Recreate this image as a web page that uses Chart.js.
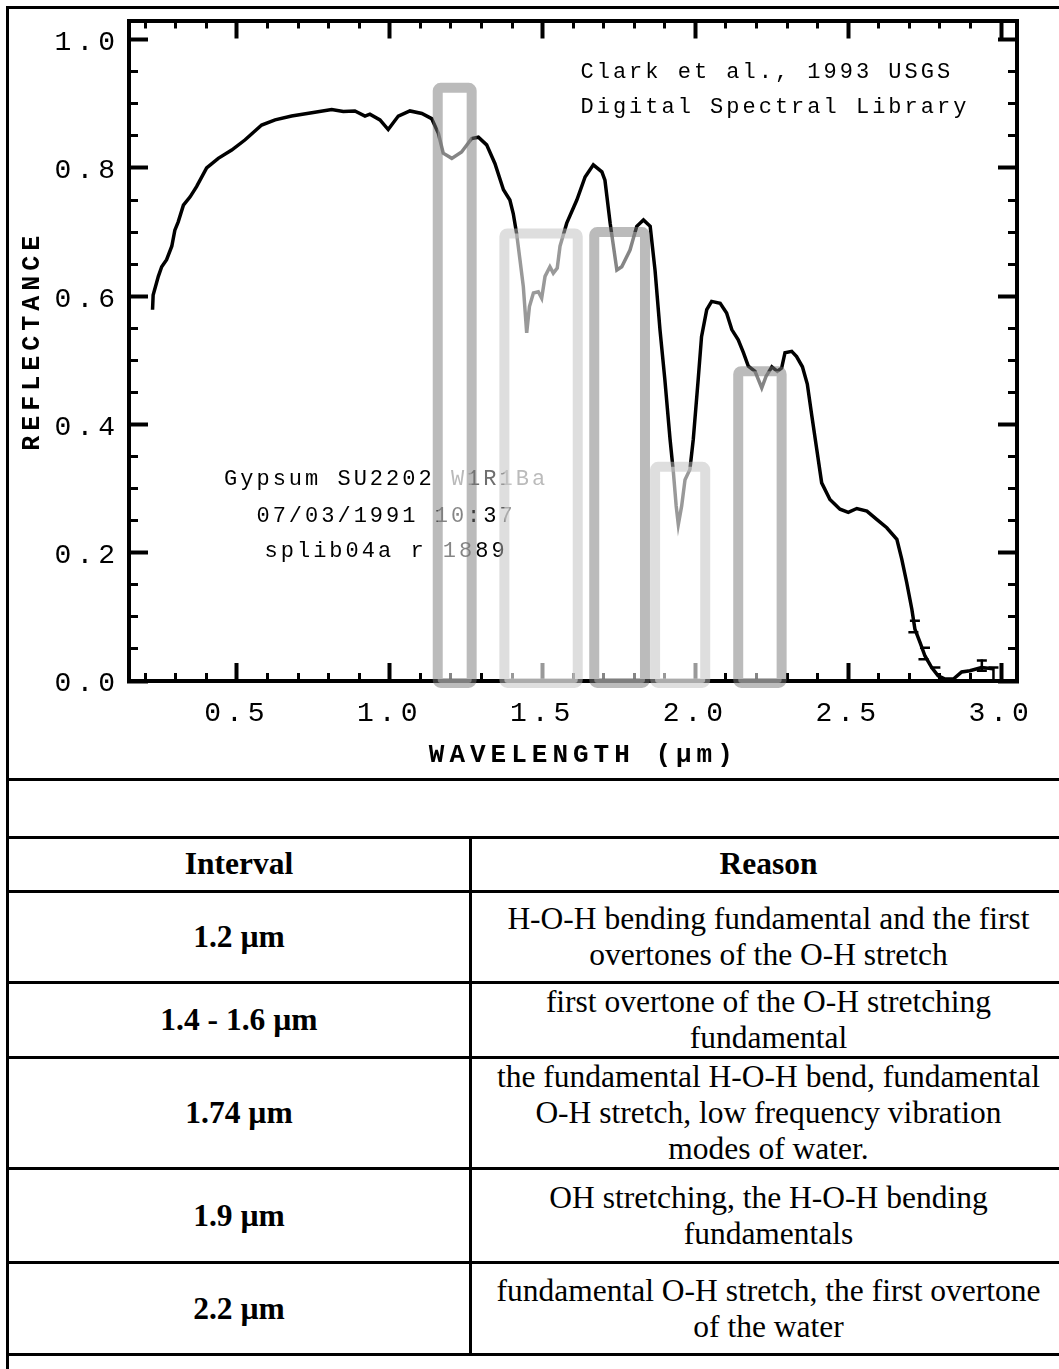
<!DOCTYPE html>
<html lang="en">
<head>
<meta charset="utf-8">
<title>Gypsum SU2202 reflectance</title>
<script src="https://cdn.jsdelivr.net/npm/chart.js@4.4.1/dist/chart.umd.min.js"></script>
<style>
  html, body { margin: 0; padding: 0; background: #fff; overflow: hidden; width: 1059px; height: 1369px; }
  #spectrum { position: absolute; left: 10px; top: 10px; z-index: 2; }
  #doc {
    position: absolute; left: 6px; top: 6px; width: 1062px;
    table-layout: fixed; border-collapse: collapse;
    font-family: "Liberation Serif", "Times New Roman", serif;
    font-size: 31.5px; line-height: 36px; color: #000;
  }
  #doc td, #doc th { border: 3px solid #000; padding: 0 4px; text-align: center; vertical-align: middle; }
  #doc th, #doc td.interval { font-weight: bold; }
  #doc tr.fig { height: 772px; }
  #doc tr.gap { height: 58px; }
  #doc tr.head { height: 53.5px; }
  #doc tr.tail { height: 60px; }
  #band0 { height: 91.5px; }
  #band1 { height: 75px; }
  #band2 { height: 111px; }
  #band3 { height: 94px; }
  #band4 { height: 92px; }
</style>
</head>
<body>
<canvas id="spectrum" width="1049" height="766"></canvas>
<table id="doc">
  <colgroup><col style="width:463px"><col></colgroup>
  <tbody>
    <tr class="fig"><td colspan="2"></td></tr>
    <tr class="gap"><td colspan="2"></td></tr>
    <tr class="head"><th>Interval</th><th>Reason</th></tr>
    <tr class="tail"><td colspan="2"></td></tr>
  </tbody>
</table>
<script>
// gypsum reflectance spectrum (splib04a)
const wavelength = [
  0.224, 0.226, 0.243, 0.254, 0.270, 0.287, 0.297, 0.308, 0.325, 0.347,
  0.368, 0.401, 0.439, 0.483, 0.527, 0.581, 0.625, 0.679, 0.745, 0.810,
  0.848, 0.886, 0.919, 0.935, 0.968, 0.995, 1.028, 1.066, 1.105, 1.137,
  1.159, 1.175, 1.203, 1.235, 1.268, 1.290, 1.317, 1.344, 1.372, 1.393,
  1.404, 1.415, 1.426, 1.437, 1.448, 1.457, 1.470, 1.486, 1.497, 1.508,
  1.524, 1.535, 1.548, 1.557, 1.579, 1.612, 1.639, 1.666, 1.694, 1.704,
  1.721, 1.743, 1.759, 1.786, 1.808, 1.830, 1.852, 1.868, 1.884, 1.900,
  1.917, 1.928, 1.937, 1.944, 1.955, 1.966, 1.982, 1.993, 2.009, 2.020,
  2.037, 2.053, 2.081, 2.102, 2.119, 2.140, 2.157, 2.173, 2.195, 2.217,
  2.231, 2.250, 2.268, 2.282, 2.293, 2.315, 2.331, 2.350, 2.366, 2.381,
  2.397, 2.413, 2.440, 2.473, 2.500, 2.528, 2.561, 2.593, 2.626, 2.659,
  2.675, 2.691, 2.708, 2.718, 2.735, 2.751, 2.773, 2.794, 2.817, 2.844,
  2.871, 2.898, 2.936, 2.974
];
const reflectance = [
  0.579, 0.602, 0.631, 0.646, 0.657, 0.678, 0.703, 0.716, 0.742, 0.755,
  0.771, 0.800, 0.815, 0.828, 0.844, 0.867, 0.875, 0.881, 0.886, 0.891,
  0.888, 0.889, 0.881, 0.884, 0.875, 0.860, 0.881, 0.889, 0.885, 0.877,
  0.854, 0.823, 0.815, 0.825, 0.846, 0.848, 0.836, 0.807, 0.766, 0.750,
  0.729, 0.698, 0.657, 0.615, 0.543, 0.584, 0.605, 0.607, 0.597, 0.631,
  0.646, 0.636, 0.644, 0.678, 0.714, 0.750, 0.786, 0.805, 0.794, 0.781,
  0.714, 0.641, 0.646, 0.672, 0.709, 0.719, 0.709, 0.640, 0.548, 0.470,
  0.377, 0.325, 0.273, 0.244, 0.273, 0.314, 0.330, 0.377, 0.470, 0.537,
  0.579, 0.592, 0.589, 0.574, 0.548, 0.532, 0.512, 0.491, 0.483, 0.457,
  0.475, 0.490, 0.483, 0.488, 0.512, 0.514, 0.506, 0.490, 0.463, 0.413,
  0.361, 0.309, 0.283, 0.268, 0.263, 0.269, 0.265, 0.252, 0.239, 0.221,
  0.190, 0.154, 0.112, 0.081, 0.060, 0.039, 0.021, 0.008, 0.003, 0.003,
  0.014, 0.016, 0.021, 0.019
];

// error bar caps and stems in the noisy tail beyond 2.7 um
const capWavelength = [2.718, 2.713, 2.751, 2.746, 2.785, 2.937, 2.937, 2.975];
const capReflectance = [0.094, 0.076, 0.052, 0.034, 0.021, 0.032, 0.016, 0.021];
const stemWavelength = [2.937, 2.975];
const stemReflectance = [0.024, 0.011];

const xMajorTicks = [0.5, 1.0, 1.5, 2.0, 2.5, 3.0];
const xMinorTicks = [0.2, 0.3, 0.4, 0.5, 0.6, 0.7, 0.8, 0.9, 1.0, 1.1, 1.2, 1.3, 1.4, 1.5, 1.6,
                     1.7, 1.8, 1.9, 2.0, 2.1, 2.2, 2.3, 2.4, 2.5, 2.6, 2.7, 2.8, 2.9, 3.0];
const yMajorTicks = [0.0, 0.2, 0.4, 0.6, 0.8, 1.0];
const yMinorTicks = [0.05, 0.1, 0.15, 0.2, 0.25, 0.3, 0.35, 0.4, 0.45, 0.5,
                     0.55, 0.6, 0.65, 0.7, 0.75, 0.8, 0.85, 0.9, 0.95, 1.0];

// water absorption bands marked on the spectrum
const bandLabels = ['1.2 µm', '1.4 - 1.6 µm', '1.74 µm', '1.9 µm', '2.2 µm'];
const bandStart = [1.157, 1.375, 1.669, 1.868, 2.140];
const bandEnd = [1.268, 1.615, 1.835, 2.032, 2.282];
const bandTop = [0.925, 0.698, 0.700, 0.334, 0.483];
const bandReasons = [
  ['H-O-H bending fundamental and the first', 'overtones of the O-H stretch'],
  ['first overtone of the O-H stretching', 'fundamental'],
  ['the fundamental H-O-H bend, fundamental', 'O-H stretch, low frequency vibration', 'modes of water.'],
  ['OH stretching, the H-O-H bending', 'fundamentals'],
  ['fundamental O-H stretch, the first overtone', 'of the water']
];

const creditLines = ['Clark et al., 1993 USGS', 'Digital Spectral Library'];
const sampleLines = [
  [['Gypsum SU2202 ', '#000'], ['W1R1', '#6e6e6e'], ['Ba', '#555']],
  [['07/03/1991 10:37', '#000']],
  [['splib04a r 1889', '#000']]
];

// table rows
const tbody = document.querySelector('#doc tbody');
const tailRow = document.querySelector('#doc tr.tail');
bandLabels.forEach((label, i) => {
  const row = document.createElement('tr');
  row.id = 'band' + i;
  row.innerHTML = `<td class="interval">${label}</td><td>${bandReasons[i].join('<br>')}</td>`;
  tbody.insertBefore(row, tailRow);
});

const X_MIN = 0.147, X_MAX = 3.052;
const Y_MIN = 0, Y_MAX = 1.03;
const MONO = '"Liberation Mono", "Courier New", monospace';

const fixTicks = list => scale => { scale.ticks = list.map(v => ({ value: v })); };

// fixed box sizes so the frame sits where it should; no label overhang padding
function sizeAxis(size) {
  return scale => {
    if (scale.isHorizontal()) scale.height = size; else scale.width = size;
    scale.paddingTop = scale.paddingBottom = scale.paddingLeft = scale.paddingRight = 0;
  };
}

function tickAxis(position, list, length, width, extra) {
  const vertical = position === 'left' || position === 'right';
  return Object.assign({
    type: 'linear',
    position: position,
    min: vertical ? Y_MIN : X_MIN,
    max: vertical ? Y_MAX : X_MAX,
    afterBuildTicks: fixTicks(list),
    afterFit: sizeAxis(0),
    grid: { drawOnChartArea: false, tickLength: length, tickWidth: width, tickColor: '#000' },
    border: { display: false },
    ticks: { display: false }
  }, extra || {});
}

const frameBorder = { display: true, width: 4, color: '#000' };

// letter spacing for the axis text, reset once the chart is drawn
const spacedText = {
  id: 'spacedText',
  beforeDraw(chart) { chart.ctx.letterSpacing = '5px'; },
  afterDraw(chart) { chart.ctx.letterSpacing = '0px'; }
};

const plotNotes = {
  id: 'plotNotes',
  afterDatasetsDraw(chart) {
    const { ctx, scales: { x, y } } = chart;
    ctx.save();
    ctx.letterSpacing = '3px';
    ctx.font = '22px ' + MONO;
    ctx.textBaseline = 'middle';
    ctx.fillStyle = '#000';
    ctx.textAlign = 'left';
    const creditX = x.getPixelForValue(1.624);
    ctx.fillText(creditLines[0], creditX, y.getPixelForValue(0.950));
    ctx.fillText(creditLines[1], creditX, y.getPixelForValue(0.895));

    const centerX = x.getPixelForValue(0.988);
    const rows = [0.314, 0.257, 0.203];
    sampleLines.forEach((parts, i) => {
      const full = parts.map(p => p[0]).join('');
      let px = centerX - ctx.measureText(full).width / 2;
      const py = y.getPixelForValue(rows[i]);
      parts.forEach(([text, color]) => {
        ctx.fillStyle = color;
        ctx.fillText(text, px, py);
        px += ctx.measureText(text).width;
      });
    });
    ctx.restore();
  }
};

const bandBoxes = {
  id: 'bandBoxes',
  afterDraw(chart) {
    const { ctx, scales: { x, y } } = chart;
    ctx.save();
    ctx.letterSpacing = '0px';
    ctx.lineJoin = 'round';
    ctx.lineWidth = 10;
    const bottom = y.getPixelForValue(-0.003);
    bandStart.forEach((start, i) => {
      const dark = i % 2 === 0;
      const left = x.getPixelForValue(start);
      const right = x.getPixelForValue(bandEnd[i]);
      const top = y.getPixelForValue(bandTop[i]);
      ctx.beginPath();
      ctx.roundRect(left, top, right - left, bottom - top, 3);
      ctx.fillStyle = dark ? 'rgba(255,255,255,0.52)' : 'rgba(255,255,255,0.6)';
      ctx.fill();
      ctx.strokeStyle = dark ? 'rgba(120,120,120,0.5)' : 'rgba(190,190,190,0.5)';
      ctx.stroke();
    });
    ctx.restore();
  }
};

new Chart(document.getElementById('spectrum'), {
  type: 'scatter',
  data: {
    datasets: [
      {
        label: 'Gypsum SU2202',
        data: wavelength.map((w, i) => ({ x: w, y: reflectance[i] })),
        showLine: true,
        borderColor: '#000',
        borderWidth: 3.5,
        pointRadius: 0,
        tension: 0,
        xAxisID: 'x',
        yAxisID: 'y'
      },
      {
        label: 'caps',
        data: capWavelength.map((w, i) => ({ x: w, y: capReflectance[i] })),
        showLine: false,
        pointStyle: 'line',
        pointRadius: 5,
        borderColor: '#000',
        pointBorderWidth: 2.5,
        xAxisID: 'x',
        yAxisID: 'y'
      },
      {
        label: 'stems',
        data: stemWavelength.map((w, i) => ({ x: w, y: stemReflectance[i] })),
        showLine: false,
        pointStyle: 'line',
        pointRotation: 90,
        pointRadius: 6,
        borderColor: '#000',
        pointBorderWidth: 2.5,
        xAxisID: 'x',
        yAxisID: 'y'
      }
    ]
  },
  options: {
    responsive: false,
    devicePixelRatio: 1,
    animation: false,
    layout: { padding: { top: 10.5, right: 42, bottom: 0, left: 0 }, autoPadding: false },
    plugins: { legend: { display: false }, tooltip: { enabled: false } },
    scales: {
      xMinor: tickAxis('bottom', xMinorTicks, -8, 3, { weight: 0 }),
      x: {
        type: 'linear',
        position: 'bottom',
        weight: 1,
        min: X_MIN,
        max: X_MAX,
        afterBuildTicks: fixTicks(xMajorTicks),
        afterFit: sizeAxis(95),
        grid: { drawOnChartArea: false, tickLength: -18, tickWidth: 4, tickColor: '#000' },
        border: frameBorder,
        ticks: {
          font: { family: MONO, size: 28 },
          color: '#000',
          padding: 34,
          maxRotation: 0,
          autoSkip: false,
          callback: v => v.toFixed(1)
        },
        title: {
          display: true,
          text: ' WAVELENGTH (µm)',
          color: '#000',
          font: { family: MONO, size: 26, weight: 'bold' },
          padding: { top: 0, bottom: 5 }
        }
      },
      xTopMinor: tickAxis('top', xMinorTicks, -8, 3, { weight: 0 }),
      xTop: tickAxis('top', xMajorTicks, -18, 4, { weight: 1, border: frameBorder }),
      yMinor: tickAxis('left', yMinorTicks, -9, 3, { weight: 0 }),
      y: {
        type: 'linear',
        position: 'left',
        weight: 1,
        min: Y_MIN,
        max: Y_MAX,
        afterBuildTicks: fixTicks(yMajorTicks),
        afterFit: sizeAxis(119),
        grid: { drawOnChartArea: false, tickLength: -19, tickWidth: 4, tickColor: '#000' },
        border: frameBorder,
        ticks: {
          font: { family: MONO, size: 28 },
          color: '#000',
          padding: 28,
          labelOffset: 3,
          callback: v => v.toFixed(1)
        },
        title: {
          display: true,
          text: ' REFLECTANCE',
          color: '#000',
          font: { family: MONO, size: 25, weight: 'bold' },
          padding: { top: 8, bottom: 0 }
        }
      },
      yRightMinor: tickAxis('right', yMinorTicks, -9, 3, { weight: 0 }),
      yRight: tickAxis('right', yMajorTicks, -19, 4, { weight: 1, border: frameBorder })
    }
  },
  plugins: [spacedText, plotNotes, bandBoxes]
});
</script>
</body>
</html>
